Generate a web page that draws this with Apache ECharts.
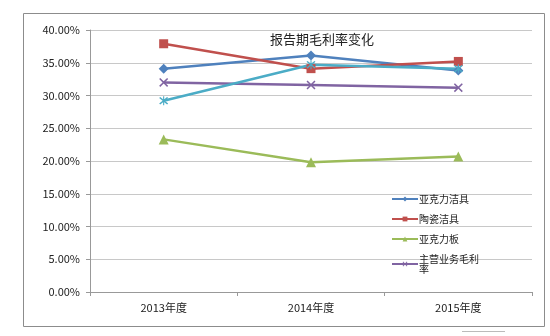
<!DOCTYPE html>
<html><head><meta charset="utf-8">
<script src="https://cdn.jsdelivr.net/npm/echarts@6/dist/echarts.min.js"></script>
<style>html,body{margin:0;padding:0;background:#fff}#c{width:550px;height:336px}</style>
</head><body><div id="c"></div>
<script>
var categories = ['2013年度', '2014年度', '2015年度'];
var acrylicSanitary = [34.1, 36.1, 33.8];
var ceramicSanitary = [37.9, 34.1, 35.2];
var acrylicBoard = [23.3, 19.8, 20.7];
var mainMargin = [32.0, 31.6, 31.2];
var unnamedSeries = [29.2, 34.7, 34.1];
var seriesNames = ['亚克力洁具', '陶瓷洁具', '亚克力板', '主营业务毛利率', ''];
var yTicks = [0, 5, 10, 15, 20, 25, 30, 35, 40];

var xPath = 'path://M0,1.2 L1.2,0 L5,3.8 L8.8,0 L10,1.2 L6.2,5 L10,8.8 L8.8,10 L5,6.2 L1.2,10 L0,8.8 L3.8,5 Z';
var starPath = 'path://M0,1.2 L1.2,0 L5,3.8 L8.8,0 L10,1.2 L6.2,5 L10,8.8 L8.8,10 L5,6.2 L1.2,10 L0,8.8 L3.8,5 Z M4.4,-1 L5.6,-1 L5.6,11 L4.4,11 Z';

var chart = echarts.init(document.getElementById('c'));
var font = '"Noto Sans CJK SC", "Liberation Sans", sans-serif';
function mk(name, data, color, symbol, size) {
  return {
    name: name, type: 'line', data: data, symbol: symbol, symbolSize: size,
    lineStyle: {color: color, width: 2.5}, itemStyle: {color: color},
    showSymbol: true, animation: false
  };
}
chart.setOption({
  animation: false,
  textStyle: {fontFamily: font},
  title: {
    text: '报告期毛利率变化', left: 317, top: 28, textAlign: 'center',
    textStyle: {fontSize: 13, fontWeight: 'normal', color: '#222', fontFamily: font}
  },
  legend: {
    data: seriesNames.slice(0, 4),
    orient: 'vertical', left: 386, top: 189, itemWidth: 26, itemHeight: 6, itemGap: 10,
    textStyle: {fontSize: 10, color: '#222', fontFamily: font, padding: [0,0,0,-4]},
    formatter: function (n) { return n === '主营业务毛利率' ? '主营业务毛利\n率' : n; }
  },
  grid: {left: 90, right: 18, top: 30, bottom: 44},
  xAxis: {
    type: 'category', data: categories, boundaryGap: true,
    axisLine: {lineStyle: {color: '#999'}},
    axisTick: {show: true, length: 4, lineStyle: {color: '#999'}},
    axisLabel: {fontSize: 11, color: '#222', margin: 10, fontFamily: font}
  },
  yAxis: {
    type: 'value', min: yTicks[0], max: yTicks[yTicks.length - 1], interval: 5,
    axisLine: {show: true, lineStyle: {color: '#999'}},
    axisTick: {show: true, length: 4, lineStyle: {color: '#999'}},
    splitLine: {lineStyle: {color: '#c8c8c8'}},
    axisLabel: {fontSize: 11, color: '#222', margin: 10, fontFamily: font,
      formatter: function (v) { return v.toFixed(2) + '%'; }}
  },
  graphic: [
    {type: 'rect', shape: {x: 23.5, y: 13.5, width: 521, height: 313}, style: {fill: 'none', stroke: '#8c8c8c', lineWidth: 1}, z: -1},
    {type: 'line', shape: {x1: 462, y1: 331.5, x2: 505, y2: 331.5}, style: {stroke: '#bbb', lineWidth: 1}}
  ],
  series: [
    mk(seriesNames[0], acrylicSanitary, '#4F81BD', 'diamond', 10),
    mk(seriesNames[1], ceramicSanitary, '#C0504D', 'rect', 9),
    mk(seriesNames[2], acrylicBoard, '#9BBB59', 'triangle', 10),
    mk(seriesNames[3], mainMargin, '#8064A2', xPath, 9),
    mk(seriesNames[4], unnamedSeries, '#4BACC6', starPath, 9)
  ]
});
</script></body></html>
